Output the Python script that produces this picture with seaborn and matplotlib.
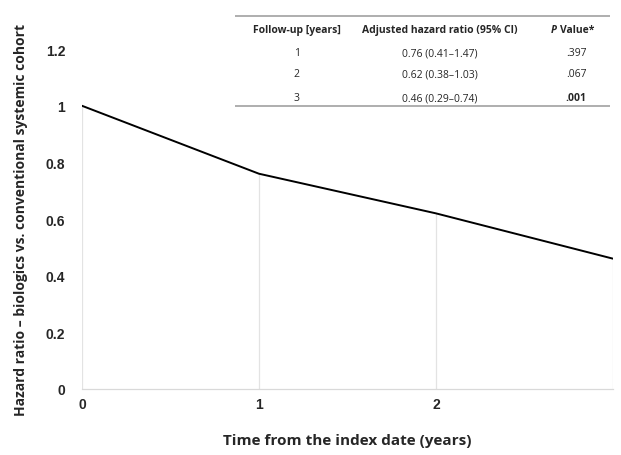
import pandas as pd
import seaborn as sns
import matplotlib.pyplot as plt

years = [0, 1, 2, 3]
hazard_ratio = [1.0, 0.76, 0.62, 0.46]

table_header = ["Follow-up [years]", "Adjusted hazard ratio (95% CI)", "P", "Value*"]
follow_up = ["1", "2", "3"]
adjusted_hr = ["0.76 (0.41\u20131.47)", "0.62 (0.38\u20131.03)", "0.46 (0.29\u20130.74)"]
p_values = [".397", ".067", ".001"]
p_bold = [False, False, True]

sns.set_theme(style="white")
plt.rcParams['font.family'] = ['Open Sans', 'DejaVu Sans']

data = pd.DataFrame({"year": years, "hr": hazard_ratio})

fig = plt.figure(figsize=(6.21, 4.56), dpi=100)
ax = fig.add_axes([0.132, 0.145, 0.855, 0.745])

# drop lines from axis up to the curve
ax.vlines(data["year"], 0, data["hr"], color="#e3e3e3", lw=0.9, zorder=1)
sns.lineplot(data=data, x="year", y="hr", ax=ax, color="black", lw=1.4, zorder=3)

ax.set_xlim(0, 3)
ax.set_ylim(0, 1.2)
ax.set_xticks([0, 1, 2])
ax.set_yticks([0, 0.2, 0.4, 0.6, 0.8, 1.0, 1.2])
ax.set_yticklabels(["0", "0.2", "0.4", "0.6", "0.8", "1", "1.2"])
for lab in ax.get_xticklabels() + ax.get_yticklabels():
    lab.set_fontfamily("Liberation Sans")
    lab.set_fontweight("bold")
    lab.set_fontsize(10)
ax.tick_params(axis="x", pad=6, length=0)
ax.tick_params(axis="y", pad=12, length=0)
for s in ["top", "right", "left"]:
    ax.spines[s].set_visible(False)
ax.spines["bottom"].set_color("#d9d9d9")
ax.spines["bottom"].set_linewidth(0.9)

ax.set_xlabel("Time from the index date (years)", fontsize=11, fontweight="bold", labelpad=16)
ax.set_ylabel("Hazard ratio \u2013 biologics vs. conventional systemic cohort",
              fontsize=10, fontweight="bold", labelpad=13)

# inset table
tab = fig.add_axes([235 / 621, 1 - 108 / 456, 375 / 621, 92 / 456])
tab.set_xlim(0, 1)
tab.set_ylim(0, 1)
tab.axis("off")
tab.axhline(0.99, color="#999999", lw=1.1)
tab.axhline(0.01, color="#999999", lw=1.1)
col_x = [0.165, 0.545, 0.91]
row_y = [0.84, 0.59, 0.36, 0.10]
fs = 7.5
tab.text(col_x[0], row_y[0], table_header[0], ha="center", va="center", fontsize=fs, fontweight="bold")
tab.text(col_x[1], row_y[0], table_header[1], ha="center", va="center", fontsize=fs, fontweight="bold")
tab.text(0.843, row_y[0], table_header[2], ha="left", va="center", fontsize=fs,
         fontweight="bold", fontstyle="italic")
tab.text(0.867, row_y[0], table_header[3], ha="left", va="center", fontsize=fs, fontweight="bold")
for i in range(3):
    y = row_y[i + 1]
    tab.text(col_x[0], y, follow_up[i], ha="center", va="center", fontsize=fs)
    tab.text(col_x[1], y, adjusted_hr[i], ha="center", va="center", fontsize=fs)
    tab.text(col_x[2], y, p_values[i], ha="center", va="center", fontsize=fs,
             fontweight="bold" if p_bold[i] else "normal")

fig.savefig("out.png", dpi=100)
